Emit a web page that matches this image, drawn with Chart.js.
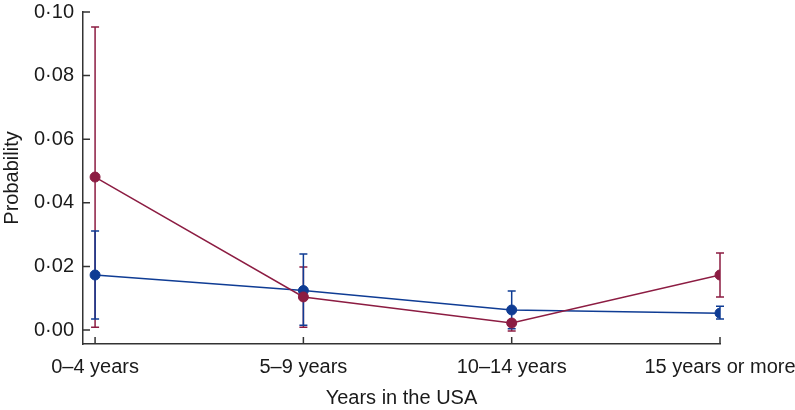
<!DOCTYPE html>
<html>
<head>
<meta charset="utf-8">
<script src="https://cdn.jsdelivr.net/npm/chart.js@4"></script>
<style>
html,body{margin:0;padding:0;background:#fff;}
#wrap{width:795px;height:410px;position:relative;}
</style>
</head>
<body>
<div id="wrap"><canvas id="c" width="795" height="410"></canvas></div>
<script>
const categories = ['0–4 years', '5–9 years', '10–14 years', '15 years or more'];
const redValues = [0.0481, 0.0104, 0.0022, 0.0173];
const redLower  = [0.0009, 0.0009, -0.0003, 0.0104];
const redUpper  = [0.0953, 0.0198, 0.0030, 0.0242];
const blueValues = [0.0173, 0.0124, 0.0063, 0.0053];
const blueLower  = [0.0035, 0.0015, 0.0004, 0.0035];
const blueUpper  = [0.0311, 0.0239, 0.0123, 0.0075];
const yTickValues = [0, 0.02, 0.04, 0.06, 0.08, 0.10];
const yTickLabels = ['0·00', '0·02', '0·04', '0·06', '0·08', '0·10'];

const RED = '#8c1c42';
const BLUE = '#0f3c94';
const AXIS = '#333333';

const toPts = arr => arr.map((v, i) => ({x: i, y: v}));

const errorBars = {
  id: 'errorBars',
  beforeDatasetsDraw(chart) {
    const ctx = chart.ctx;
    const ys = chart.scales.y, xs = chart.scales.x;
    chart.data.datasets.forEach((ds) => {
      ctx.save();
      ctx.strokeStyle = ds.borderColor;
      ctx.lineWidth = 1.5;
      ds.lower.forEach((lo, i) => {
        const hi = ds.upper[i];
        const px = xs.getPixelForValue(i);
        const y1 = ys.getPixelForValue(lo), y2 = ys.getPixelForValue(hi);
        ctx.beginPath();
        ctx.moveTo(px, y1); ctx.lineTo(px, y2);
        ctx.moveTo(px - 4, y1); ctx.lineTo(px + 4, y1);
        ctx.moveTo(px - 4, y2); ctx.lineTo(px + 4, y2);
        ctx.stroke();
      });
      ctx.restore();
    });
  },
  afterDraw(chart) {
    const ctx = chart.ctx;
    const ys = chart.scales.y, xs = chart.scales.x;
    const a = chart.chartArea;
    ctx.save();
    ctx.strokeStyle = AXIS;
    ctx.lineWidth = 1.5;
    ctx.beginPath();
    yTickValues.forEach(v => {
      const py = ys.getPixelForValue(v);
      ctx.moveTo(a.left, py); ctx.lineTo(a.left + 7, py);
    });
    categories.forEach((c, i) => {
      const px = xs.getPixelForValue(i);
      ctx.moveTo(px, a.bottom); ctx.lineTo(px, a.bottom - 7);
    });
    ctx.stroke();
    ctx.restore();
  }
};

new Chart(document.getElementById('c'), {
  type: 'line',
  data: {
    datasets: [
      {data: toPts(redValues), lower: redLower, upper: redUpper, borderColor: RED, backgroundColor: RED,
       borderWidth: 1.5, pointRadius: 5, pointBorderWidth: 1, pointBackgroundColor: RED, pointBorderColor: RED, tension: 0},
      {data: toPts(blueValues), lower: blueLower, upper: blueUpper, borderColor: BLUE, backgroundColor: BLUE,
       borderWidth: 1.5, pointRadius: 5, pointBorderWidth: 1, pointBackgroundColor: BLUE, pointBorderColor: BLUE, tension: 0}
    ]
  },
  options: {
    responsive: false,
    animation: false,
    devicePixelRatio: 1,
    layout: {padding: {left: 0, top: 12, right: 75, bottom: 0}},
    plugins: {legend: {display: false}, tooltip: {enabled: false}},
    scales: {
      x: {
        type: 'linear',
        min: -0.058, max: 3,
        afterBuildTicks: s => { s.ticks = categories.map((c, i) => ({value: i})); },
        afterFit: s => { s.height = 66; s.paddingLeft = 0; s.paddingRight = 0; },
        grid: {display: true, drawOnChartArea: false, drawTicks: false},
        border: {display: true, color: AXIS, width: 1.5},
        ticks: {
          autoSkip: false, maxRotation: 0, padding: 11,
          color: '#1a1a1a', font: {family: 'Liberation Sans, Arial', size: 20},
          callback: (v) => categories[v]
        },
        title: {display: true, text: 'Years in the USA', color: '#1a1a1a',
          font: {family: 'Liberation Sans, Arial', size: 20}, padding: {top: 4, bottom: 0}}
      },
      y: {
        min: -0.0044, max: 0.1,
        afterBuildTicks: s => { s.ticks = yTickValues.map(v => ({value: v})); },
        afterFit: s => { s.width = 83; s.paddingTop = 0; s.paddingBottom = 0; },
        grid: {display: true, drawOnChartArea: false, drawTicks: false},
        border: {display: true, color: AXIS, width: 1.5},
        ticks: {
          padding: 9, color: '#1a1a1a', font: {family: 'Liberation Sans, Arial', size: 20},
          callback: (v) => yTickLabels[yTickValues.findIndex(t => Math.abs(t - v) < 1e-9)]
        },
        title: {display: true, text: 'Probability', color: '#1a1a1a',
          font: {family: 'Liberation Sans, Arial', size: 20}, padding: {top: 0, bottom: 0}}
      }
    }
  },
  plugins: [errorBars]
});
</script>
</body>
</html>
